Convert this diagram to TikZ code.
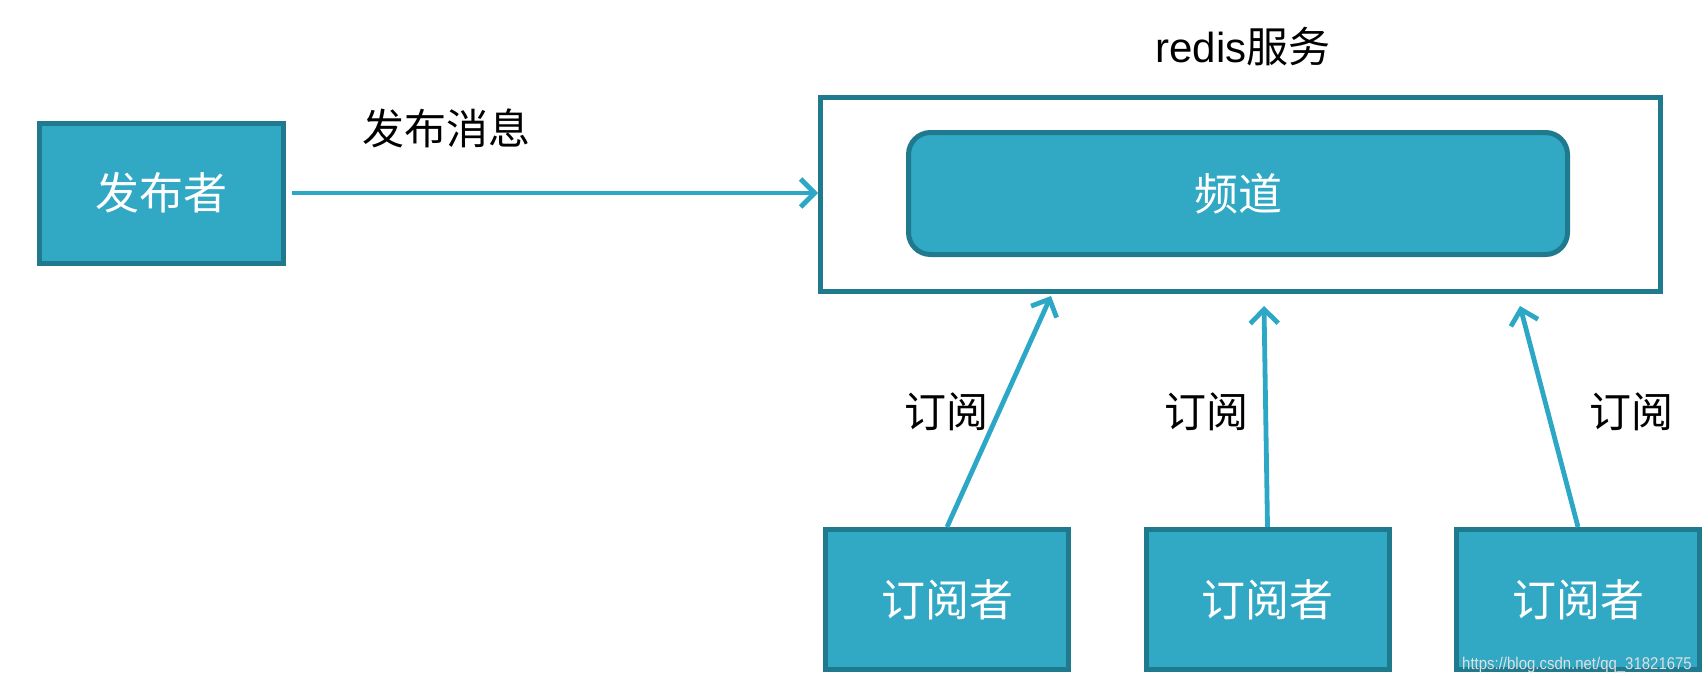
\documentclass[tikz,border=0pt]{standalone}
\usepackage{fontspec}
\setmainfont{Liberation Sans}
\newfontfamily\cjk{Noto Sans CJK SC}
\usetikzlibrary{arrows.meta}
\definecolor{boxfill}{RGB}{49,168,196}
\definecolor{boxline}{RGB}{32,122,142}
\definecolor{arrowc}{RGB}{44,168,198}
\tikzset{
  solidbox/.style={draw=boxline, line width=5pt, fill=boxfill, text=white,
    minimum width=244pt, minimum height=140pt, inner sep=0pt,
    font=\cjk\fontsize{44}{44}\selectfont},
  subbox/.style={solidbox, minimum width=243pt, minimum height=140pt},
  lbl/.style={inner sep=0pt, text=black, font=\cjk\fontsize{42}{42}\selectfont},
  conn/.style={draw=arrowc, line width=4.8pt,
    -{Straight Barb[length=14pt,width=28pt,line width=4.8pt]}}
}
\begin{document}
\begin{tikzpicture}[x=1pt,y=-1pt]
\useasboundingbox[fill=white] (0,0) rectangle (1708,688);
% publisher
\node[solidbox] (pub) at (161.5,193) {发布者};
\node[lbl] (pubmsg) at (446,128) {发布消息};
% redis service
\node[draw=boxline, line width=5pt, fill=white, minimum width=840pt, minimum height=194pt, inner sep=0pt] (redis) at (1240.5,194.5) {};
\node[inner sep=0pt, font=\fontsize{42}{42}\selectfont] (redislbl) at (1243,47) {redis{\cjk 服务}};
\node[solidbox, rounded corners=22pt, minimum width=659pt, minimum height=122pt] (chan) at (1238,193.5) {频道};
% subscribers
\node[subbox] (s1) at (947,599.5) {订阅者};
\node[subbox] (s2) at (1267.5,599.5) {订阅者};
\node[subbox] (s3) at (1578,599.5) {订阅者};
% arrow end points
\coordinate (t1) at (1051,296);
\coordinate (t2) at (1264,306);
\coordinate (t3) at (1520,306);
% connectors
\draw[conn, shorten <=6pt] (pub.east) -- (redis.west |- pub.east);
\draw[conn] (s1.north) -- (t1);
\draw[conn] (s2.north) -- (t2);
\draw[conn] (s3.north) -- (t3);
% labels
\node[lbl] (l1) at (946,412) {订阅};
\node[lbl] (l2) at (1206,412) {订阅};
\node[lbl] (l3) at (1631,412) {订阅};
% watermark
\node[inner sep=0pt, text=white!88!black, font=\fontsize{17}{17}\selectfont, xscale=0.88] (wm) at (1577,665) {https://blog.csdn.net/qq\_31821675};
\end{tikzpicture}
\end{document}
